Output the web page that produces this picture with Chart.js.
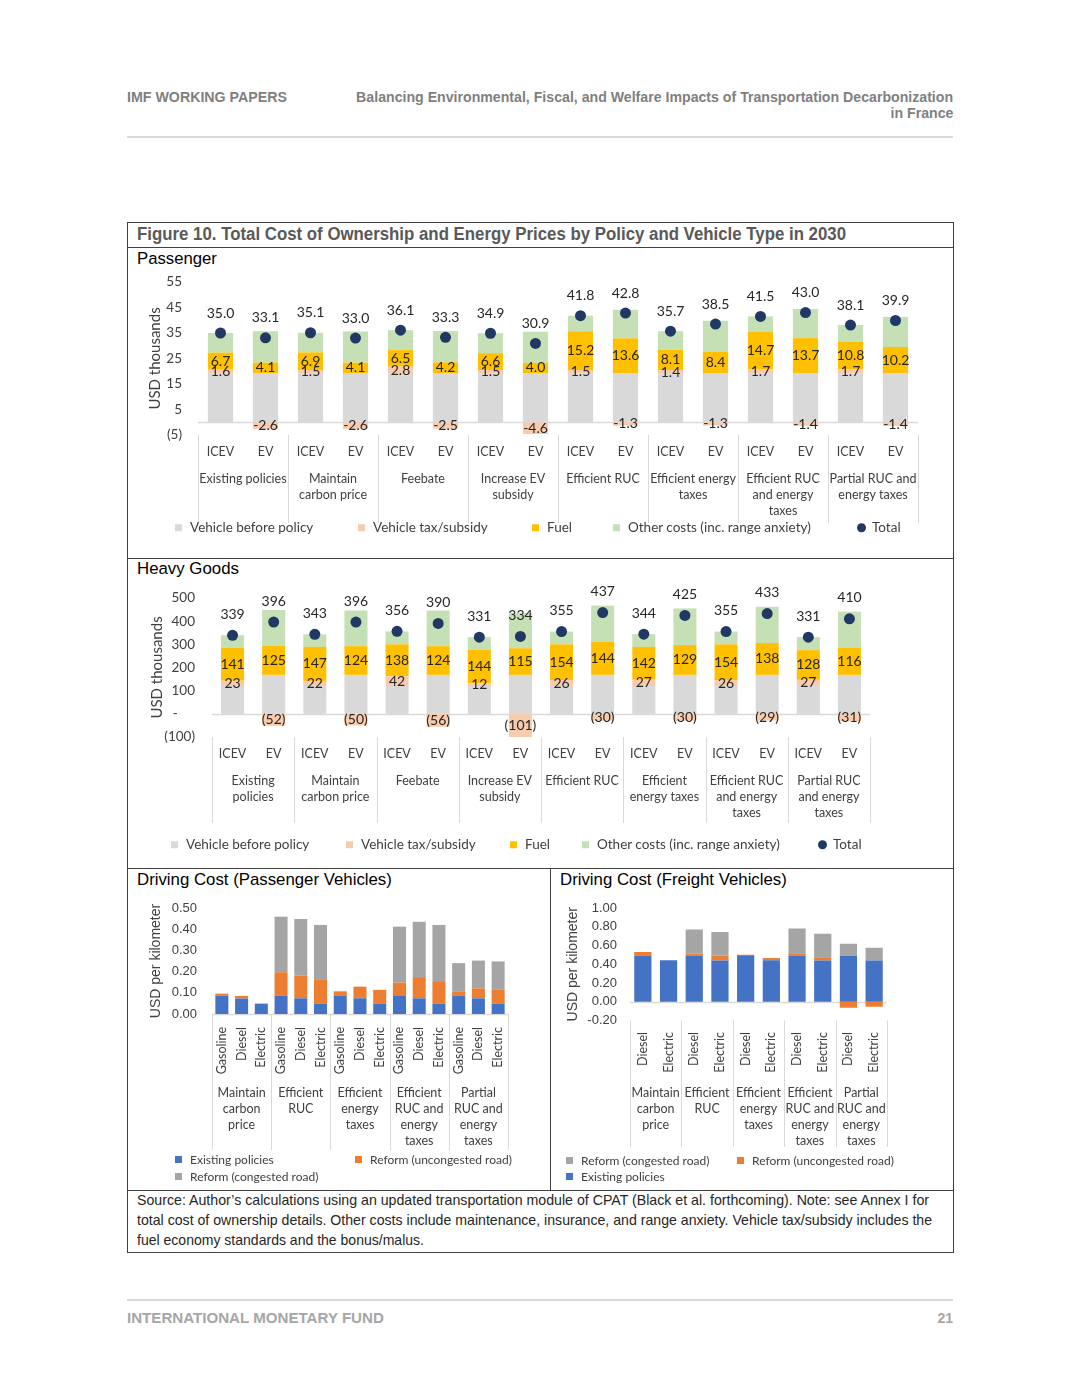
<!DOCTYPE html>
<html>
<head>
<meta charset="utf-8">
<script src="https://cdn.jsdelivr.net/npm/chart.js@4.4.1/dist/chart.umd.min.js"></script>
<style>
body { margin: 0; background: #fff; }
#page { position: relative; width: 1080px; height: 1397px; overflow: hidden; background: #fff; font-family: 'Liberation Sans', Arial, sans-serif; }
.t { position: absolute; white-space: nowrap; transform: translateY(-50%); line-height: 1.15; }
.narrow { font-family: 'Liberation Sans', Arial, sans-serif; }
.line { position: absolute; background: #d9d9d9; }
.rule { position: absolute; background: #404040; }
.cbox { position: absolute; }
.leg { position: absolute; white-space: nowrap; font-family: Lato, sans-serif; color: #404040; transform: translateY(-50%); line-height: 1; }
.leg i { display: inline-block; width: 7px; height: 7px; margin-right: 8px; vertical-align: 1px; }
.leg i.dot { width: 9px; height: 9px; border-radius: 50%; margin-right: 6px; vertical-align: 0; }
</style>
</head>
<body>
<div id="page">
  <!-- page header -->
  <div class="t narrow" style="left:127px;top:97px;font-weight:bold;color:#7f7f7f;font-size:14.5px" data-w="160">IMF WORKING PAPERS</div>
  <div class="t narrow" style="right:127px;top:97px;font-weight:bold;color:#7f7f7f;font-size:14.5px" data-w="597">Balancing Environmental, Fiscal, and Welfare Impacts of Transportation Decarbonization</div>
  <div class="t narrow" style="right:127px;top:113px;font-weight:bold;color:#7f7f7f;font-size:14.5px" data-w="63">in France</div>
  <div class="line" style="left:127px;top:136px;width:826px;height:2px"></div>

  <!-- figure frame -->
  <div class="rule" style="left:127px;top:222px;width:826px;height:1px"></div>
  <div class="rule" style="left:127px;top:1252px;width:827px;height:1px"></div>
  <div class="rule" style="left:127px;top:222px;width:1px;height:1030px"></div>
  <div class="rule" style="left:953px;top:222px;width:1px;height:1030px"></div>
  <div class="rule" style="left:127px;top:247px;width:826px;height:1px"></div>
  <div class="rule" style="left:127px;top:558px;width:826px;height:1px"></div>
  <div class="rule" style="left:127px;top:868px;width:826px;height:1px"></div>
  <div class="rule" style="left:127px;top:1190px;width:826px;height:1px"></div>
  <div class="rule" style="left:550px;top:868px;width:1px;height:322px"></div>

  <div class="t narrow" style="left:137px;top:234px;font-weight:bold;color:#595959;font-size:18px" data-w="709">Figure 10. Total Cost of Ownership and Energy Prices by Policy and Vehicle Type in 2030</div>
  <div class="t" style="left:137px;top:259px;color:#000;font-size:16.5px" data-w="80">Passenger</div>
  <div class="t" style="left:137px;top:569px;color:#000;font-size:16.5px" data-w="102">Heavy Goods</div>
  <div class="t" style="left:137px;top:880px;color:#000;font-size:16.5px" data-w="255">Driving Cost (Passenger Vehicles)</div>
  <div class="t" style="left:560px;top:880px;color:#000;font-size:16.5px" data-w="227">Driving Cost (Freight Vehicles)</div>

  <div class="cbox" style="left:130px;top:268px;width:815px;height:262px"><canvas id="passChart"></canvas></div>
  <div class="cbox" style="left:130px;top:578px;width:815px;height:262px"><canvas id="heavyChart"></canvas></div>
  <div class="cbox" style="left:130px;top:896px;width:415px;height:260px"><canvas id="drivePassChart"></canvas></div>
  <div class="cbox" style="left:552px;top:896px;width:395px;height:260px"><canvas id="driveFreightChart"></canvas></div>

  <div class="t narrow" style="left:137px;top:1200px;color:#262626;font-size:14.5px" data-w="792">Source: Author’s calculations using an updated transportation module of CPAT (Black et al. forthcoming). Note: see Annex I for</div>
  <div class="t narrow" style="left:137px;top:1220px;color:#262626;font-size:14.5px" data-w="795">total cost of ownership details. Other costs include maintenance, insurance, and range anxiety. Vehicle tax/subsidy includes the</div>
  <div class="t narrow" style="left:137px;top:1240px;color:#262626;font-size:14.5px" data-w="287">fuel economy standards and the bonus/malus.</div>

  <!-- page footer -->
  <div class="line" style="left:127px;top:1299px;width:826px;height:2px"></div>
  <div class="t" style="left:127px;top:1318px;font-weight:bold;color:#a6a6a6;font-size:14px" data-w="257">INTERNATIONAL MONETARY FUND</div>
  <div class="t" style="right:127px;top:1318px;font-weight:bold;color:#a6a6a6;font-size:14px">21</div>
</div>

<script>
// ---- Passenger total cost of ownership (USD thousands) ----
const PASS_TYPES = ['ICEV', 'EV', 'ICEV', 'EV', 'ICEV', 'EV', 'ICEV', 'EV', 'ICEV', 'EV', 'ICEV', 'EV', 'ICEV', 'EV', 'ICEV', 'EV'];
const PASS_GROUPS = [['Existing policies'], ['Maintain', 'carbon price'], ['Feebate'], ['Increase EV', 'subsidy'],
    ['Efficient RUC'], ['Efficient energy', 'taxes'], ['Efficient RUC', 'and energy', 'taxes'], ['Partial RUC and', 'energy taxes']];
const passVehicle = [19.0, 19.3, 19.0, 19.3, 19.0, 19.3, 19.0, 19.3, 19.0, 19.3, 19.0, 19.3, 19.0, 19.3, 19.0, 19.3];
const passTax = [1.6, -2.6, 1.5, -2.6, 2.8, -2.5, 1.5, -4.6, 1.5, -1.3, 1.4, -1.3, 1.7, -1.4, 1.7, -1.4];
const passFuel = [6.7, 4.1, 6.9, 4.1, 6.5, 4.2, 6.6, 4.0, 15.2, 13.6, 8.1, 8.4, 14.7, 13.7, 10.8, 10.2];
const passOther = [7.7, 12.3, 7.7, 12.2, 7.8, 12.3, 7.8, 12.2, 6.1, 11.2, 7.2, 12.1, 6.1, 11.4, 6.6, 11.8];
const passTotal = [35.0, 33.1, 35.1, 33.0, 36.1, 33.3, 34.9, 30.9, 41.8, 42.8, 35.7, 38.5, 41.5, 43.0, 38.1, 39.9];

// ---- Heavy goods total cost of ownership (USD thousands) ----
const HEAVY_GROUPS = [['Existing', 'policies'], ['Maintain', 'carbon price'], ['Feebate'], ['Increase EV', 'subsidy'],
    ['Efficient RUC'], ['Efficient', 'energy taxes'], ['Efficient RUC', 'and energy', 'taxes'], ['Partial RUC', 'and energy', 'taxes']];
const heavyVehicle = [120, 168, 120, 168, 120, 168, 120, 168, 120, 168, 120, 168, 120, 168, 120, 168];
const heavyTax = [23, -52, 22, -50, 42, -56, 12, -101, 26, -30, 27, -30, 26, -29, 27, -31];
const heavyFuel = [141, 125, 147, 124, 138, 124, 144, 115, 154, 144, 142, 129, 154, 138, 128, 116];
const heavyOther = [55, 155, 54, 154, 56, 154, 55, 152, 55, 155, 55, 158, 55, 156, 56, 157];
const heavyTotal = [339, 396, 343, 396, 356, 390, 331, 334, 355, 437, 344, 425, 355, 433, 331, 410];

// ---- Driving cost (USD per km) ----
const DRIVE_GROUPS = [['Maintain', 'carbon', 'price'], ['Efficient', 'RUC'], ['Efficient', 'energy', 'taxes'],
    ['Efficient', 'RUC and', 'energy', 'taxes'], ['Partial', 'RUC and', 'energy', 'taxes']];
const PASS_FUELS = ['Gasoline', 'Diesel', 'Electric', 'Gasoline', 'Diesel', 'Electric', 'Gasoline', 'Diesel', 'Electric',
    'Gasoline', 'Diesel', 'Electric', 'Gasoline', 'Diesel', 'Electric'];
const drivePassExisting = [0.087, 0.073, 0.049, 0.087, 0.074, 0.049, 0.087, 0.074, 0.049, 0.088, 0.074, 0.049, 0.087, 0.074, 0.049];
const drivePassUncongested = [0.009, 0.012, 0, 0.110, 0.107, 0.112, 0.020, 0.055, 0.065, 0.060, 0.100, 0.106, 0.020, 0.047, 0.065];
const drivePassCongested = [0, 0, 0, 0.262, 0.267, 0.259, 0, 0, 0, 0.264, 0.261, 0.265, 0.133, 0.131, 0.134];

const FREIGHT_FUELS = ['Diesel', 'Electric', 'Diesel', 'Electric', 'Diesel', 'Electric', 'Diesel', 'Electric', 'Diesel', 'Electric'];
const freightExisting = [0.49, 0.443, 0.49, 0.44, 0.496, 0.443, 0.49, 0.44, 0.49, 0.44];
const freightUncongested = [0.04, 0, 0.025, 0.05, 0.005, 0.025, 0.028, 0.035, -0.064, -0.054];
const freightCongested = [0, 0, 0.257, 0.253, 0, 0, 0.264, 0.25, 0.128, 0.135];

// Colours
const C_VEHICLE = '#d9d9d9', C_TAX = '#f8cbad', C_FUEL = '#ffc000', C_OTHER = '#c5e0b4', C_TOTAL = '#203864';
const C_EXIST = '#4472c4', C_UNCONG = '#ed7d31', C_CONG = '#a5a5a5';
const TXT = '#404040';

// Draws the zero line, the two-level category axis and the group separators
const groupAxis = {
    id: 'groupAxis',
    beforeDatasetsDraw(chart, args, o) {
        const {ctx, chartArea} = chart;
        const y0 = Math.round(chart.scales.y.getPixelForValue(0)) + 0.5;
        ctx.save();
        ctx.strokeStyle = '#d9d9d9';
        ctx.lineWidth = 1.3;
        ctx.beginPath();
        ctx.moveTo(chartArea.left, y0);
        ctx.lineTo(chartArea.right, y0);
        ctx.stroke();
        ctx.restore();
    },
    afterDraw(chart, args, o) {
        const {ctx, chartArea} = chart;
        const xs = chart.scales.x;
        const step = xs.getPixelForValue(1) - xs.getPixelForValue(0);
        const b = chartArea.bottom;
        ctx.save();
        ctx.fillStyle = o.color;
        ctx.font = o.tickFont;
        chart.data.labels.forEach((lab, i) => {
            const x = xs.getPixelForValue(i);
            if (o.rotate) {
                ctx.save();
                ctx.translate(x, b + o.tickOffset);
                ctx.rotate(-Math.PI / 2);
                ctx.textAlign = 'right';
                ctx.textBaseline = 'middle';
                ctx.fillText(lab, 0, 0);
                ctx.restore();
            } else {
                ctx.textAlign = 'center';
                ctx.textBaseline = 'middle';
                ctx.fillText(lab, x, b + o.tickOffset);
            }
        });
        ctx.strokeStyle = '#d9d9d9';
        ctx.lineWidth = 1;
        ctx.font = o.groupFont;
        ctx.textAlign = 'center';
        ctx.textBaseline = 'middle';
        o.groups.forEach((lines, g) => {
            const first = g * o.size;
            const x0 = xs.getPixelForValue(first) - step / 2;
            const x1 = xs.getPixelForValue(first + o.size - 1) + step / 2;
            const sx = [x0];
            if (g === o.groups.length - 1) sx.push(x1);
            sx.forEach(sxv => {
                const px = Math.round(sxv) + 0.5;
                ctx.beginPath();
                ctx.moveTo(px, b);
                ctx.lineTo(px, b + o.sepLen);
                ctx.stroke();
            });
            lines.forEach((ln, k) => ctx.fillText(ln, (x0 + x1) / 2, b + o.groupOffset + k * o.lineGap));
        });
        ctx.restore();
    }
};

// Value labels on bar segments and above the total dots
const valueLabels = {
    id: 'valueLabels',
    afterDatasetsDraw(chart) {
        const ctx = chart.ctx;
        chart.data.datasets.forEach((ds, i) => {
            if (!ds.valueLabel) return;
            const vl = ds.valueLabel;
            const meta = chart.getDatasetMeta(i);
            ctx.save();
            ctx.font = vl.font;
            ctx.fillStyle = '#262626';
            ctx.textAlign = 'center';
            ctx.textBaseline = 'middle';
            meta.data.forEach((el, j) => {
                const v = ds.data[j];
                if (v === null || v === undefined) return;
                const y = vl.above ? el.y - vl.above : (el.y + el.base) / 2;
                ctx.fillText(vl.format(v), el.x, y);
            });
            ctx.restore();
        });
    }
};

function yAxis(o) {
    return {
        stacked: true,
        min: o.min, max: o.max,
        ticks: {stepSize: o.step, padding: o.pad, color: TXT, font: o.font, callback: o.fmt},
        grid: {display: false, drawTicks: false},
        border: {display: false},
        title: {display: true, text: o.title, color: TXT, font: o.titleFont, padding: {top: o.titlePad, bottom: 0}},
        afterFit: s => {
            // fixed axis width, and no extra room for the end tick labels
            s.width = o.width;
            s.paddingTop = 0;
            s.paddingBottom = 0;
        }
    };
}

function tcoChart(id, d) {
    return new Chart(document.getElementById(id), {
        type: 'bar',
        data: {
            labels: PASS_TYPES,
            datasets: [
                {label: 'Vehicle before policy', data: d.vehicle, backgroundColor: C_VEHICLE, stack: 's', order: 2},
                {label: 'Vehicle tax/subsidy', data: d.tax, backgroundColor: C_TAX, stack: 's', order: 2,
                    valueLabel: {font: '14px Lato', format: d.taxFmt}},
                {label: 'Fuel', data: d.fuel, backgroundColor: C_FUEL, stack: 's', order: 2,
                    valueLabel: {font: '14px Lato', format: d.fmt}},
                {label: 'Other costs (inc. range anxiety)', data: d.other, backgroundColor: C_OTHER, stack: 's', order: 2},
                {type: 'line', label: 'Total', data: d.total, showLine: false, stack: 't', order: 1,
                    pointRadius: 5.5, pointBackgroundColor: C_TOTAL, pointBorderWidth: 0,
                    valueLabel: {font: '14px Lato', format: d.fmt, above: d.above}}
            ]
        },
        options: {
            responsive: true, maintainAspectRatio: false, animation: false,
            layout: {padding: d.padding},
            datasets: {bar: {categoryPercentage: 1, barPercentage: d.barPct}},
            scales: {x: {stacked: true, display: false}, y: yAxis(d.y)},
            plugins: {legend: {display: false}, tooltip: {enabled: false}, groupAxis: d.axis}
        },
        plugins: [groupAxis, valueLabels]
    });
}

function costChart(id, d) {
    return new Chart(document.getElementById(id), {
        type: 'bar',
        data: {
            labels: d.labels,
            datasets: [
                {label: 'Existing policies', data: d.existing, backgroundColor: C_EXIST},
                {label: 'Reform (uncongested road)', data: d.uncong, backgroundColor: C_UNCONG},
                {label: 'Reform (congested road)', data: d.cong, backgroundColor: C_CONG}
            ]
        },
        options: {
            responsive: true, maintainAspectRatio: false, animation: false,
            layout: {padding: d.padding},
            datasets: {bar: {categoryPercentage: 1, barPercentage: d.barPct}},
            scales: {x: {stacked: true, display: false}, y: yAxis(d.y)},
            plugins: {legend: {display: false}, tooltip: {enabled: false}, groupAxis: d.axis}
        },
        plugins: [groupAxis]
    });
}

function addLegend(items, size) {
    const page = document.getElementById('page');
    items.forEach(([x, y, color, text, dot]) => {
        const d = document.createElement('div');
        d.className = 'leg';
        d.style.left = x + 'px';
        d.style.top = y + 'px';
        d.style.fontSize = size + 'px';
        d.innerHTML = `<i class="${dot ? 'dot' : ''}" style="background:${color}"></i>${text}`;
        page.appendChild(d);
    });
}

// Narrow (Arial Narrow-like) texts are squeezed horizontally, the rest get a fitted font size
function fitText() {
    document.querySelectorAll('[data-w]').forEach(el => {
        const target = +el.dataset.w;
        const w = el.getBoundingClientRect().width;
        if (!(w > 0)) return;
        if (el.classList.contains('narrow')) {
            el.style.transformOrigin = el.style.right ? 'right center' : 'left center';
            el.style.transform = `translateY(-50%) scaleX(${(target / w).toFixed(4)})`;
        } else {
            const fs = parseFloat(getComputedStyle(el).fontSize);
            el.style.fontSize = (fs * target / w).toFixed(2) + 'px';
        }
    });
}

fitText();

const fix2 = v => (Math.abs(v) < 1e-9 ? 0 : v).toFixed(2);

tcoChart('passChart', {
    vehicle: passVehicle, tax: passTax, fuel: passFuel, other: passOther, total: passTotal,
    fmt: v => v.toFixed(1), taxFmt: v => v.toFixed(1), above: 20,
    padding: {left: 0, right: 27, top: 14, bottom: 95}, barPct: 0.56,
    y: {min: -5, max: 55, step: 10, pad: 16, width: 68, font: {family: 'Lato', size: 13.5},
        fmt: v => v < 0 ? `(${-v})` : v, title: 'USD thousands', titleFont: {family: 'Lato', size: 15}, titlePad: 16},
    axis: {size: 2, groups: PASS_GROUPS, rotate: false, tickOffset: 17, groupOffset: 44, lineGap: 16, sepLen: 88,
        tickFont: '12.5px Lato', groupFont: '12.5px Lato', color: TXT}
});

tcoChart('heavyChart', {
    vehicle: heavyVehicle, tax: heavyTax, fuel: heavyFuel, other: heavyOther, total: heavyTotal,
    fmt: v => String(v), taxFmt: v => v < 0 ? `(${-v})` : String(v), above: 21,
    padding: {left: 0, right: 75, top: 20, bottom: 103}, barPct: 0.56,
    y: {min: -100, max: 500, step: 100, pad: 17, width: 82, font: {family: 'Lato', size: 13.5},
        fmt: v => v < 0 ? `(${-v})` : (v === 0 ? '-     ' : v), title: 'USD thousands', titleFont: {family: 'Lato', size: 15}, titlePad: 18},
    axis: {size: 2, groups: HEAVY_GROUPS, rotate: false, tickOffset: 17, groupOffset: 44, lineGap: 16, sepLen: 86,
        tickFont: '12.5px Lato', groupFont: '12.5px Lato', color: TXT}
});

costChart('drivePassChart', {
    labels: PASS_FUELS, existing: drivePassExisting, uncong: drivePassUncongested, cong: drivePassCongested,
    padding: {left: 0, right: 37, top: 12, bottom: 142}, barPct: 0.66,
    y: {min: 0, max: 0.5, step: 0.1, pad: 15, width: 82, font: {family: 'Liberation Sans', size: 13},
        fmt: fix2, title: 'USD per kilometer', titleFont: {family: 'Liberation Sans', size: 14}, titlePad: 18},
    axis: {size: 3, groups: DRIVE_GROUPS, rotate: true, tickOffset: 13, groupOffset: 79, lineGap: 16, sepLen: 136,
        tickFont: '12.5px Lato', groupFont: '12.5px Lato', color: TXT}
});

costChart('driveFreightChart', {
    labels: FREIGHT_FUELS, existing: freightExisting, uncong: freightUncongested, cong: freightCongested,
    padding: {left: 0, right: 60, top: 12, bottom: 135.5}, barPct: 0.67,
    y: {min: -0.2, max: 1.0, step: 0.2, pad: 13, width: 78, font: {family: 'Liberation Sans', size: 13},
        fmt: fix2, title: 'USD per kilometer', titleFont: {family: 'Liberation Sans', size: 14}, titlePad: 13},
    axis: {size: 2, groups: DRIVE_GROUPS, rotate: true, tickOffset: 11.5, groupOffset: 72.5, lineGap: 16, sepLen: 126.5,
        tickFont: '12.5px Lato', groupFont: '12.5px Lato', color: TXT}
});

// Legends
addLegend([
    [175, 528, C_VEHICLE, 'Vehicle before policy'],
    [358, 528, C_TAX, 'Vehicle tax/subsidy'],
    [532, 528, C_FUEL, 'Fuel'],
    [613, 528, C_OTHER, 'Other costs (inc. range anxiety)'],
    [857, 528, C_TOTAL, 'Total', true]
], 13.5);
addLegend([
    [171, 845, C_VEHICLE, 'Vehicle before policy'],
    [346, 845, C_TAX, 'Vehicle tax/subsidy'],
    [510, 845, C_FUEL, 'Fuel'],
    [582, 845, C_OTHER, 'Other costs (inc. range anxiety)'],
    [818, 845, C_TOTAL, 'Total', true]
], 13.5);
addLegend([
    [175, 1160, C_EXIST, 'Existing policies'],
    [355, 1160, C_UNCONG, 'Reform (uncongested road)'],
    [175, 1177, C_CONG, 'Reform (congested road)']
], 12);
addLegend([
    [566, 1161, C_CONG, 'Reform (congested road)'],
    [737, 1161, C_UNCONG, 'Reform (uncongested road)'],
    [566, 1177, C_EXIST, 'Existing policies']
], 12);
</script>
</body>
</html>
